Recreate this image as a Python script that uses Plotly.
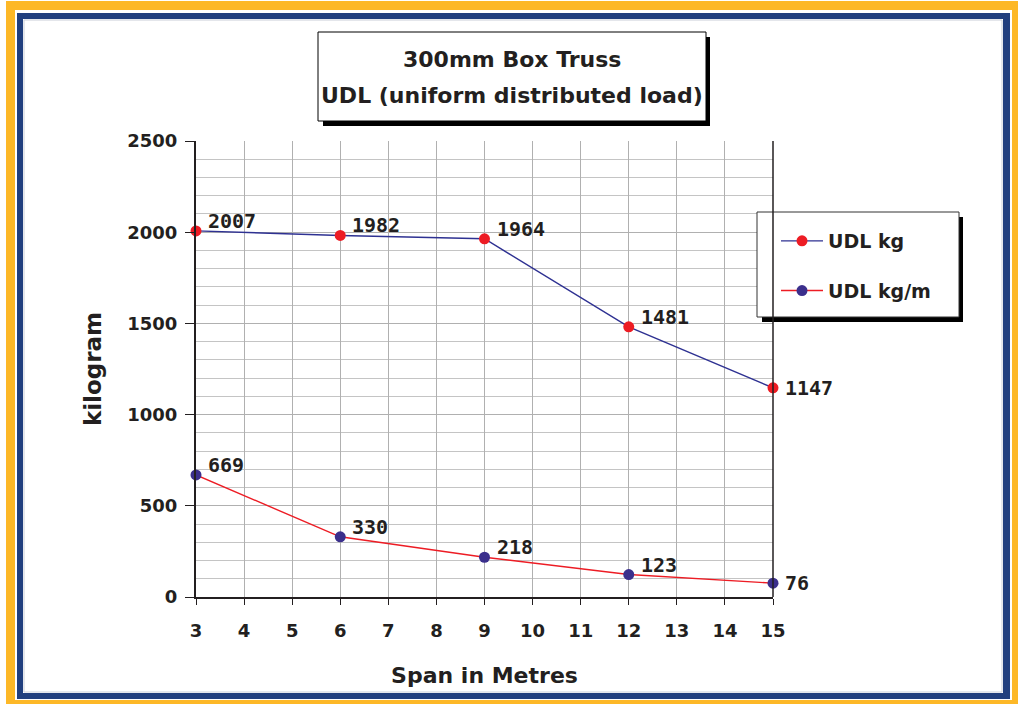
import plotly.graph_objects as go

span = [3, 6, 9, 12, 15]
udl_kg = [2007, 1982, 1964, 1481, 1147]
udl_kgm = [669, 330, 218, 123, 76]
title_lines = ["300mm Box Truss", "UDL (uniform distributed load)"]

W, H = 1018, 704
L, R, T, B = 196, 773, 141, 597

def px(x):
    return (x - L) / (R - L)

def py(y):
    return (B - y) / (B - T)

RED = "#ED1C24"
NAVY = "#2E3192"
MARK_NAVY = "#3B2F8C"
INK = "#231F20"
LABEL_FONT = dict(family="DejaVu Sans Mono", size=20, color=INK, weight="bold")
TICK_FONT = dict(family="DejaVu Sans", size=18, color=INK, weight="bold")
SANS = "DejaVu Sans"

fig = go.Figure()
fig.add_trace(go.Scatter(x=span, y=udl_kg, name="UDL kg", mode="lines+markers",
                         line=dict(color=NAVY, width=1.4),
                         marker=dict(color=RED, size=11), cliponaxis=False,
                         legendgroup="a"))
fig.add_trace(go.Scatter(x=span, y=udl_kgm, name="UDL kg/m", mode="lines+markers",
                         line=dict(color=RED, width=1.4),
                         marker=dict(color=MARK_NAVY, size=11), cliponaxis=False,
                         legendgroup="b"))

annotations = []
for series in (udl_kg, udl_kgm):
    for i, (xv, yv) in enumerate(zip(span, series)):
        last = i == len(span) - 1
        annotations.append(dict(x=xv, y=yv, xref="x", yref="y", text=str(yv),
                                showarrow=False, xanchor="left", yanchor="middle",
                                xshift=10, yshift=0 if last else 10, font=LABEL_FONT))

# title text
for line_text, yc in zip(title_lines, (59, 95)):
    annotations.append(dict(x=px(512), y=py(yc), xref="paper", yref="paper",
                            xanchor="center", yanchor="middle",
                            text=line_text, showarrow=False,
                            font=dict(family=SANS, size=22, color=INK, weight="bold")))

shapes = []
def rect(x0, y0, x1, y1, fill, line_color=None, lw=0, layer="below"):
    shapes.append(dict(type="rect", xref="paper", yref="paper",
                       x0=px(x0), x1=px(x1), y0=py(y1), y1=py(y0),
                       fillcolor=fill, layer=layer,
                       line=dict(color=line_color or fill, width=lw)))

# frame
rect(6, 1, 1018, 704, "#FDB827")
rect(15, 10, 1012, 700, "white")
rect(17, 13, 1010, 699, "#213F7E")
rect(23, 19, 1003, 693, "white")
rect(24, 20, 1002, 692, "white", "#C9CED8", 1)

# title box with shadow
rect(323, 37, 710, 126, "black", layer="above")
rect(318, 32, 706, 121, "white", "black", 1, layer="above")

# legend box with shadow
rect(762, 217, 963, 322, "black", layer="above")
rect(757, 212, 959, 317, "white", "#333333", 1, layer="above")

# right border of plot area
shapes.append(dict(type="line", xref="x domain", yref="y domain", x0=1, x1=1, y0=0, y1=1,
                   line=dict(color=INK, width=1.5), layer="above"))

fig.update_layout(
    width=W, height=H,
    margin=dict(l=L, r=W - R, t=T, b=H - B),
    paper_bgcolor="white", plot_bgcolor="rgba(0,0,0,0)",
    showlegend=True,
    legend=dict(x=px(776), y=py(222), xanchor="left", yanchor="top",
                bgcolor="rgba(0,0,0,0)", tracegroupgap=22, itemwidth=42,
                font=dict(family=SANS, size=19, color=INK, weight="bold")),
    annotations=annotations, shapes=shapes,
    xaxis=dict(range=[3, 15], dtick=1, tick0=3, showgrid=True, gridcolor="#B0B0B0",
               gridwidth=1, zeroline=False, showline=True, linecolor=INK, linewidth=2,
               ticks="outside", ticklen=6, tickcolor=INK, tickfont=TICK_FONT,
               ticklabelstandoff=10,
               title=dict(text="Span in Metres", standoff=28,
                          font=dict(family=SANS, size=22, color=INK, weight="bold"))),
    yaxis=dict(range=[0, 2500], dtick=500, tick0=0, showgrid=True, gridcolor="#B0B0B0",
               gridwidth=1, zeroline=False, showline=True, linecolor=INK, linewidth=2,
               ticks="outside", ticklen=9, tickcolor=INK, tickfont=TICK_FONT,
               ticklabelstandoff=4,
               minor=dict(dtick=100, showgrid=True, gridcolor="#C4C4C4", gridwidth=1),
               title=dict(text="kilogram", standoff=19,
                          font=dict(family=SANS, size=23, color=INK, weight="bold"))),
)

fig.write_html("out.html", post_script="document.body.style.margin='0';",
               config={"displayModeBar": False})
